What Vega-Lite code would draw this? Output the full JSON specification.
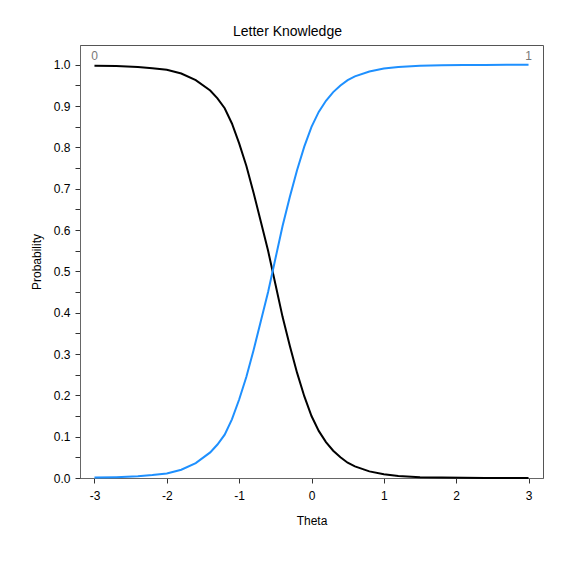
{
  "$schema": "https://vega.github.io/schema/vega-lite/v6.json",
  "autosize": {"type": "none"},
  "width": 463,
  "height": 433,
  "padding": {"left": 80, "top": 45, "right": 36, "bottom": 88},
  "background": "white",
  "config": {
    "font": "Liberation Sans",
    "locale": {"number": {"decimal": ".", "thousands": ",", "grouping": [3], "currency": ["$", ""], "minus": "-"}},
    "view": {"stroke": "#555", "strokeWidth": 1},
    "axis": {"grid": false, "labelFont": "Liberation Sans", "titleFont": "Liberation Sans", "labelFontSize": 12, "titleFontSize": 12, "labelColor": "#000", "titleColor": "#000", "titleFontWeight": "normal", "domainColor": "#666", "tickColor": "#333", "tickSize": 5, "labelOverlap": false, "tickCount": 50}
  },
  "title": {"text": "Letter Knowledge", "fontSize": 14, "fontWeight": "normal", "font": "Liberation Sans", "color": "#000", "offset": 6, "dx": -24},
  "datasets": {
    "curves": [
      {"theta": -3.0, "p": 0.998, "cat": "0"}, {"theta": -2.7, "p": 0.997, "cat": "0"}, {"theta": -2.4, "p": 0.995, "cat": "0"}, {"theta": -2.2, "p": 0.992, "cat": "0"}, {"theta": -2.0, "p": 0.988, "cat": "0"}, {"theta": -1.8, "p": 0.979, "cat": "0"}, {"theta": -1.6, "p": 0.963, "cat": "0"}, {"theta": -1.4, "p": 0.938, "cat": "0"}, {"theta": -1.3, "p": 0.919, "cat": "0"}, {"theta": -1.2, "p": 0.895, "cat": "0"}, {"theta": -1.1, "p": 0.858, "cat": "0"}, {"theta": -1.0, "p": 0.81, "cat": "0"}, {"theta": -0.9, "p": 0.755, "cat": "0"}, {"theta": -0.8, "p": 0.69, "cat": "0"}, {"theta": -0.7, "p": 0.62, "cat": "0"}, {"theta": -0.6, "p": 0.55, "cat": "0"}, {"theta": -0.5, "p": 0.47, "cat": "0"}, {"theta": -0.4, "p": 0.39, "cat": "0"}, {"theta": -0.3, "p": 0.32, "cat": "0"}, {"theta": -0.2, "p": 0.255, "cat": "0"}, {"theta": -0.1, "p": 0.198, "cat": "0"}, {"theta": 0.0, "p": 0.15, "cat": "0"}, {"theta": 0.1, "p": 0.114, "cat": "0"}, {"theta": 0.2, "p": 0.087, "cat": "0"}, {"theta": 0.3, "p": 0.066, "cat": "0"}, {"theta": 0.4, "p": 0.05, "cat": "0"}, {"theta": 0.5, "p": 0.037, "cat": "0"}, {"theta": 0.6, "p": 0.028, "cat": "0"}, {"theta": 0.8, "p": 0.016, "cat": "0"}, {"theta": 1.0, "p": 0.009, "cat": "0"}, {"theta": 1.2, "p": 0.005, "cat": "0"}, {"theta": 1.5, "p": 0.002, "cat": "0"}, {"theta": 1.8, "p": 0.001, "cat": "0"}, {"theta": 2.1, "p": 0.0005, "cat": "0"}, {"theta": 2.4, "p": 0.0002, "cat": "0"}, {"theta": 2.7, "p": 0.0001, "cat": "0"}, {"theta": 3.0, "p": 0.0, "cat": "0"},
      {"theta": -3.0, "p": 0.001, "cat": "1"}, {"theta": -2.7, "p": 0.002, "cat": "1"}, {"theta": -2.4, "p": 0.004, "cat": "1"}, {"theta": -2.2, "p": 0.007, "cat": "1"}, {"theta": -2.0, "p": 0.011, "cat": "1"}, {"theta": -1.8, "p": 0.02, "cat": "1"}, {"theta": -1.6, "p": 0.036, "cat": "1"}, {"theta": -1.4, "p": 0.062, "cat": "1"}, {"theta": -1.3, "p": 0.081, "cat": "1"}, {"theta": -1.2, "p": 0.105, "cat": "1"}, {"theta": -1.1, "p": 0.142, "cat": "1"}, {"theta": -1.0, "p": 0.19, "cat": "1"}, {"theta": -0.9, "p": 0.245, "cat": "1"}, {"theta": -0.8, "p": 0.31, "cat": "1"}, {"theta": -0.7, "p": 0.38, "cat": "1"}, {"theta": -0.6, "p": 0.45, "cat": "1"}, {"theta": -0.5, "p": 0.53, "cat": "1"}, {"theta": -0.4, "p": 0.61, "cat": "1"}, {"theta": -0.3, "p": 0.68, "cat": "1"}, {"theta": -0.2, "p": 0.745, "cat": "1"}, {"theta": -0.1, "p": 0.802, "cat": "1"}, {"theta": 0.0, "p": 0.85, "cat": "1"}, {"theta": 0.1, "p": 0.886, "cat": "1"}, {"theta": 0.2, "p": 0.913, "cat": "1"}, {"theta": 0.3, "p": 0.934, "cat": "1"}, {"theta": 0.4, "p": 0.95, "cat": "1"}, {"theta": 0.5, "p": 0.963, "cat": "1"}, {"theta": 0.6, "p": 0.972, "cat": "1"}, {"theta": 0.8, "p": 0.984, "cat": "1"}, {"theta": 1.0, "p": 0.991, "cat": "1"}, {"theta": 1.2, "p": 0.995, "cat": "1"}, {"theta": 1.5, "p": 0.998, "cat": "1"}, {"theta": 1.8, "p": 0.999, "cat": "1"}, {"theta": 2.1, "p": 0.9995, "cat": "1"}, {"theta": 2.4, "p": 0.9998, "cat": "1"}, {"theta": 2.7, "p": 0.9999, "cat": "1"}, {"theta": 3.0, "p": 1.0, "cat": "1"}
    ],
    "labels": [
      {"theta": -3.0, "p": 1.0, "label": "0"},
      {"theta": 3.0, "p": 1.0, "label": "1"}
    ]
  },
  "layer": [
    {
      "data": {"name": "curves"},
      "mark": {"type": "line", "strokeWidth": 2},
      "encoding": {
        "x": {"field": "theta", "type": "quantitative", "scale": {"domain": [-3.2, 3.2], "nice": false, "zero": false},
          "axis": {"title": "Theta", "values": [-3, -2.5, -2, -1.5, -1, -0.5, 0, 0.5, 1, 1.5, 2, 2.5, 3], "format": "d", "labelOpacity": {"condition": {"test": "datum.value % 1 !== 0", "value": 0}, "value": 1}, "labelPadding": 7, "titlePadding": 14}},
        "y": {"field": "p", "type": "quantitative", "scale": {"domain": [0, 1.048], "nice": false},
          "axis": {"title": "Probability", "values": [0, 0.05, 0.1, 0.15, 0.2, 0.25, 0.3, 0.35, 0.4, 0.45, 0.5, 0.55, 0.6, 0.65, 0.7, 0.75, 0.8, 0.85, 0.9, 0.95, 1.0], "labelExpr": "round(datum.value * 100) % 10 === 0 ? format(datum.value, '.1f') : ''", "labelPadding": 5, "titlePadding": 10}},
        "color": {"field": "cat", "type": "nominal", "scale": {"domain": ["0", "1"], "range": ["#000000", "#1E90FF"]}, "legend": null}
      }
    },
    {
      "data": {"name": "labels"},
      "mark": {"type": "text", "baseline": "bottom", "align": "center", "dy": -2, "fontSize": 12, "color": "#777", "font": "Liberation Sans"},
      "encoding": {
        "x": {"field": "theta", "type": "quantitative"},
        "y": {"field": "p", "type": "quantitative"},
        "text": {"field": "label"}
      }
    }
  ]
}
